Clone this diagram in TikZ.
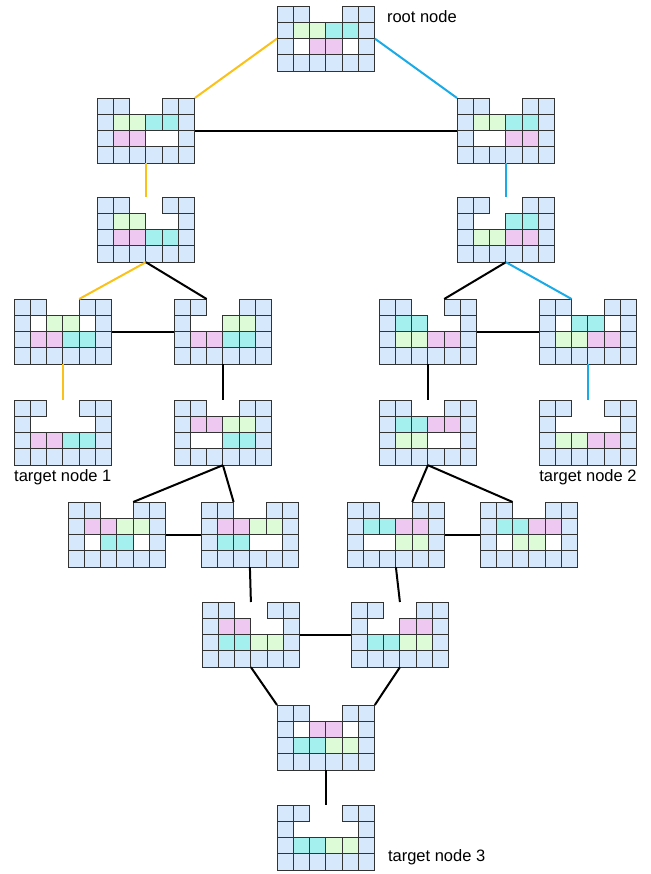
\documentclass[tikz,border=0pt]{standalone}
\usepackage{fontspec}
\setmainfont{Liberation Sans}
\usetikzlibrary{positioning}
\definecolor{fillB}{HTML}{D5E8FC}
\definecolor{fillG}{HTML}{DCFBD6}
\definecolor{fillC}{HTML}{A3F0EE}
\definecolor{fillP}{HTML}{EEC8F0}
\definecolor{gridline}{HTML}{333333}
\definecolor{pathyellow}{HTML}{FBC118}
\definecolor{pathblue}{HTML}{1AAAE6}
\newcommand{\cellsz}{16.3}
% one state: name, x, y (top left, px), inner row 1, inner row 2 (E = empty)
\newcommand{\cellgrid}[5]{%
  \node[gridbox] (#1) at (#2,-#3) {};
  \begin{scope}[shift={(#1.north west)}]
    \foreach \c in {0,1,4,5} \draw[cell] (\c*\cellsz,0) rectangle ++(\cellsz,-\cellsz);
    \foreach \r in {1,2} \foreach \c in {0,5}
      \draw[cell] (\c*\cellsz,-\r*\cellsz) rectangle ++(\cellsz,-\cellsz);
    \foreach \c in {0,...,5} \draw[cell] (\c*\cellsz,-3*\cellsz) rectangle ++(\cellsz,-\cellsz);
    \foreach \k [count=\c] in {#4}
      {\if\k E\else\draw[cell, fill=fill\k] (\c*\cellsz,-\cellsz) rectangle ++(\cellsz,-\cellsz);\fi}
    \foreach \k [count=\c] in {#5}
      {\if\k E\else\draw[cell, fill=fill\k] (\c*\cellsz,-2*\cellsz) rectangle ++(\cellsz,-\cellsz);\fi}
    \coordinate (#1-l) at (2*\cellsz,0);
    \coordinate (#1-r) at (4*\cellsz,0);
  \end{scope}}

\begin{document}
\begin{tikzpicture}[
  x=1pt, y=1pt,
  font=\fontsize{16.5}{19}\selectfont,
  gridbox/.style={inner sep=0pt, outer sep=0pt, anchor=north west,
                  minimum width=6*\cellsz*1pt, minimum height=4*\cellsz*1pt},
  cell/.style={draw=gridline, fill=fillB, line width=0.9pt},
  lbl/.style={inner sep=0pt},
  link/.style={line width=2pt, draw=black},
  linkY/.style={link, draw=pathyellow},
  linkB/.style={link, draw=pathblue}
]
\useasboundingbox (0,0) rectangle (650,-874);

% ---------------- States ----------------
\cellgrid{root}{277}{6}{G,G,C,C}{E,P,P,E}

\cellgrid{l1}{97}{98}{G,G,C,C}{P,P,E,E}
\cellgrid{r1}{457}{98}{G,G,C,C}{E,E,P,P}

\cellgrid{l2}{97}{197}{G,G,E,E}{P,P,C,C}
\cellgrid{r2}{457}{197}{E,E,C,C}{G,G,P,P}

\cellgrid{ll3}{14}{299}{E,G,G,E}{P,P,C,C}
\cellgrid{lr3}{174}{299}{E,E,G,G}{P,P,C,C}
\cellgrid{rl3}{379}{299}{C,C,E,E}{G,G,P,P}
\cellgrid{rr3}{539}{299}{E,C,C,E}{G,G,P,P}

\cellgrid{tgt1}{14}{400}{E,E,E,E}{P,P,C,C}
\cellgrid{lr4}{174}{400}{P,P,G,G}{E,E,C,C}
\cellgrid{rl4}{379}{400}{C,C,P,P}{G,G,E,E}
\cellgrid{tgt2}{539}{400}{E,E,E,E}{G,G,P,P}

\cellgrid{m5a}{68}{502}{P,P,G,G}{E,C,C,E}
\cellgrid{m5b}{201}{502}{P,P,G,G}{C,C,E,E}
\cellgrid{m5c}{347}{502}{C,C,P,P}{E,E,G,G}
\cellgrid{m5d}{480}{502}{C,C,P,P}{E,G,G,E}

\cellgrid{m6a}{202}{602}{P,P,E,E}{C,C,G,G}
\cellgrid{m6b}{351}{602}{E,E,P,P}{C,C,G,G}

\cellgrid{m7}{277}{705}{E,P,P,E}{C,C,G,G}
\cellgrid{tgt3}{277}{805}{E,E,E,E}{C,C,G,G}

% ---------------- Labels ----------------
\node[lbl, below right=4pt and 12pt of root.north east] (lblroot) {root node};
\node[lbl, below right=4pt and 0pt of tgt1.south west] (lbl1) {target node 1};
\node[lbl, below left=4pt and 0pt of tgt2.south east] (lbl2) {target node 2};
\node[lbl, above right=5pt and 13pt of tgt3.south east] (lbl3) {target node 3};

% ---------------- Connectors ----------------
\draw[linkY] (root.west) -- (l1.north east);
\draw[linkB] (root.east) -- (r1.north west);
\draw[link]  (l1) -- (r1);

\draw[linkY] (l1.south) -- (l2.north);
\draw[linkB] (r1.south) -- (r2.north);

\draw[linkY] (l2.south) -- (ll3-r);
\draw[link]  (l2.south) -- (lr3-l);
\draw[link]  (r2.south) -- (rl3-r);
\draw[linkB] (r2.south) -- (rr3-l);
\draw[link]  (ll3) -- (lr3);
\draw[link]  (rl3) -- (rr3);

\draw[linkY] (ll3.south) -- (tgt1.north);
\draw[link]  (lr3.south) -- (lr4.north);
\draw[link]  (rl3.south) -- (rl4.north);
\draw[linkB] (rr3.south) -- (tgt2.north);

\draw[link] (lr4.south) -- (m5a-r);
\draw[link] (lr4.south) -- (m5b-l);
\draw[link] (rl4.south) -- (m5c-r);
\draw[link] (rl4.south) -- (m5d-l);
\draw[link] (m5a) -- (m5b);
\draw[link] (m5c) -- (m5d);

\draw[link] (m5b.south) -- (m6a.north);
\draw[link] (m5c.south) -- (m6b.north);
\draw[link] (m6a) -- (m6b);

\draw[link] (m6a.south) -- (m7.north west);
\draw[link] (m6b.south) -- (m7.north east);
\draw[link] (m7.south) -- (tgt3.north);

\end{tikzpicture}
\end{document}
